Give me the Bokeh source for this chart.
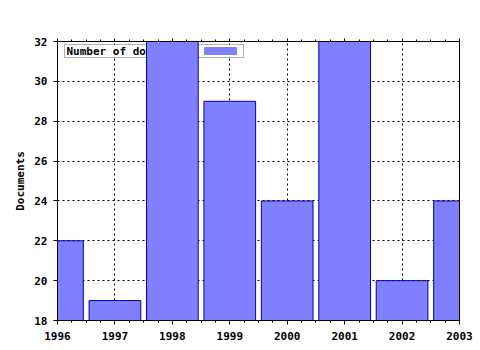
from bokeh.plotting import figure
from bokeh.models import (ColumnDataSource, LinearAxis, SingleIntervalTicker,
                          Range1d, BoxAnnotation, Label, CustomJSTickFormatter)
from bokeh.embed import file_html
from bokeh.resources import INLINE

years = [1996, 1997, 1998, 1999, 2000, 2001, 2002, 2003]
documents = [22, 19, 32, 29, 24, 32, 20, 24]
series_name = "Number of documents"
y_label = "Documents"

FONT = "DejaVu Sans Mono"
BAR_FILL = "#8080ff"
BAR_LINE = "#0000a0"

src = ColumnDataSource(dict(year=years, docs=documents))

p = figure(width=480, height=350, output_backend="svg", toolbar_location=None,
           x_range=Range1d(1996, 2003), y_range=Range1d(18, 32),
           x_axis_location=None, y_axis_location=None,
           min_border_left=57, min_border_right=21, min_border_top=41,
           min_border_bottom=30)
p.outline_line_color = None
p.background_fill_color = "white"
p.border_fill_color = "white"

xt = SingleIntervalTicker(interval=1, num_minor_ticks=4)
yt = SingleIntervalTicker(interval=2, num_minor_ticks=0)
blank = CustomJSTickFormatter(code="return ''")

def style(ax):
    ax.axis_line_color = "black"
    ax.major_tick_line_color = "black"
    ax.minor_tick_line_color = "black"
    ax.major_label_text_font = FONT
    ax.major_label_text_font_style = "bold"
    ax.major_label_text_font_size = "11px"
    ax.major_label_text_color = "black"

bottom = LinearAxis(ticker=xt)
style(bottom)
bottom.major_tick_out = 4
bottom.major_tick_in = 0
bottom.minor_tick_out = 2
bottom.minor_tick_in = 0
bottom.major_label_standoff = 7
p.add_layout(bottom, "below")

top = LinearAxis(ticker=xt, formatter=blank)
style(top)
top.major_tick_out = 3
top.major_tick_in = 0
top.minor_tick_out = 2
top.minor_tick_in = 0
top.major_label_standoff = 0
p.add_layout(top, "above")

left = LinearAxis(ticker=yt)
style(left)
left.major_tick_out = 4
left.major_tick_in = 0
left.minor_tick_line_color = None
left.major_label_standoff = 6
left.axis_label = y_label
left.axis_label_text_font = FONT
left.axis_label_text_font_style = "bold"
left.axis_label_text_font_size = "11px"
left.axis_label_text_color = "black"
left.axis_label_standoff = 4
p.add_layout(left, "left")

right = LinearAxis(ticker=yt, formatter=blank)
style(right)
right.major_tick_line_color = None
right.minor_tick_line_color = None
right.major_label_standoff = 0
p.add_layout(right, "right")

p.xgrid.ticker = xt
p.ygrid.ticker = yt
for g in (p.xgrid, p.ygrid):
    g.grid_line_color = "black"
    g.grid_line_dash = "2 3"
    g.grid_line_width = 1

# legend (drawn beneath the bars, like the reference)
box = BoxAnnotation(left=7, right=186, top=276, bottom=263,
                    left_units="screen", right_units="screen",
                    top_units="screen", bottom_units="screen",
                    fill_color="white", fill_alpha=1.0,
                    line_color="black", line_width=1, level="underlay")
p.add_layout(box)
sw = BoxAnnotation(left=147, right=179, top=273, bottom=266,
                   left_units="screen", right_units="screen",
                   top_units="screen", bottom_units="screen",
                   fill_color=BAR_FILL, fill_alpha=1.0,
                   line_color=BAR_LINE, line_width=1, level="underlay")
p.add_layout(sw)
lab = Label(x=9, y=269.5, x_units="screen", y_units="screen", text=series_name,
            text_font=FONT, text_font_style="bold", text_font_size="11px",
            text_baseline="middle", text_align="left", text_color="black",
            level="underlay")
p.add_layout(lab)

p.vbar(x="year", top="docs", bottom=0, width=0.9, source=src,
       fill_color=BAR_FILL, line_color=BAR_LINE, line_width=1)

open("out.html", "w").write(file_html(p, INLINE))
